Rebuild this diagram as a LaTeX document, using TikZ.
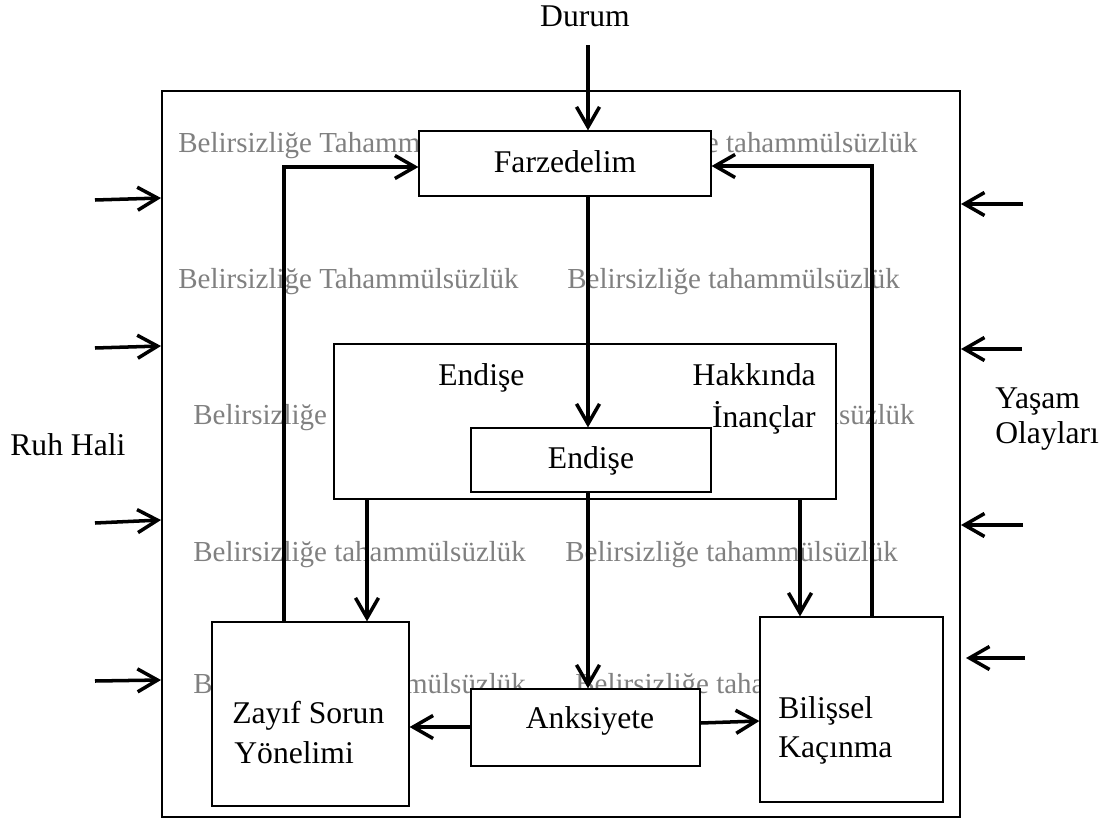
\documentclass[tikz,border=0pt]{standalone}
\usepackage{fontspec}
\setmainfont{Liberation Serif}
\usetikzlibrary{arrows.meta}
\begin{document}
\begin{tikzpicture}[x=0.02cm,y=-0.02cm,
  box/.style={draw,fill=white,line width=0.7pt,inner sep=0pt},
  lbl/.style={inner sep=0pt,font=\fontsize{18}{21}\selectfont},
  wm/.style={inner sep=0pt,text=black!50,font=\fontsize{16.5}{20}\selectfont,anchor=base west},
  wme/.style={wm,anchor=base east},
  arr/.style={line width=2pt,-{Straight Barb[length=4mm,width=4.6mm]}}]
\useasboundingbox (0,0) rectangle (1109,818);
% outer frame
\node[draw,line width=1.2pt,minimum width=15.96cm,minimum height=14.52cm,inner sep=0pt] (frame) at (561,454) {};
% watermark texts
\node[wm]  (w1a) at (178,152) {Belirsizliğe Tahammülsüzlük};
\node[wme] (w1b) at (918,152) {Belirsizliğe tahammülsüzlük};
\node[wm]  (w2a) at (178,288) {Belirsizliğe Tahammülsüzlük};
\node[wm]  (w2b) at (567,288) {Belirsizliğe tahammülsüzlük};
\node[wm]  (w3a) at (193,424) {Belirsizliğe tahammülsüzlük};
\node[wme] (w3b) at (915,424) {Belirsizliğe tahammülsüzlük};
\node[wm]  (w4a) at (193,561) {Belirsizliğe tahammülsüzlük};
\node[wm]  (w4b) at (565,561) {Belirsizliğe tahammülsüzlük};
\node[wm]  (w5a) at (193,693) {Belirsizliğe tahammülsüzlük};
\node[wm]  (w5b) at (575,693) {Belirsizliğe tahammülsüzlük};
% boxes
\node[box,minimum width=5.84cm,minimum height=1.3cm] (farz) at (565,163.5) {};
\node[box,minimum width=10.04cm,minimum height=3.1cm] (big) at (585,421.5) {};
\node[box,minimum width=4.8cm,minimum height=1.28cm] (small) at (591,460) {};
\node[box,minimum width=3.94cm,minimum height=3.68cm] (zayif) at (310.5,714) {};
\node[box,minimum width=4.58cm,minimum height=1.54cm] (anks) at (585.5,727.5) {};
\node[box,minimum width=3.66cm,minimum height=3.7cm] (bil) at (851.5,709.5) {};
% texts
\node[lbl,anchor=base] (durum) at (585,27) {Durum};
\node[lbl,anchor=base] (tfarz) at (565,172) {Farzedelim};
\node[lbl,anchor=base west] (tend1) at (438,385) {Endişe};
\node[lbl,anchor=base east] (thak) at (816,385) {Hakkında};
\node[lbl,anchor=base east] (tinan) at (816,427) {İnançlar};
\node[lbl,anchor=base] (tend2) at (591,468) {Endişe};
\node[lbl,anchor=base west] (tzay1) at (232,723) {Zayıf Sorun};
\node[lbl,anchor=base west] (tzay2) at (234,763) {Yönelimi};
\node[lbl,anchor=base] (tanks) at (590,728) {Anksiyete};
\node[lbl,anchor=base west] (tbil1) at (778,718) {Bilişsel};
\node[lbl,anchor=base west] (tbil2) at (778,757) {Kaçınma};
\node[lbl,anchor=base west] (ruh) at (10,455) {Ruh Hali};
\node[lbl,anchor=base west] (yas1) at (995,408) {Yaşam};
\node[lbl,anchor=base west] (yas2) at (995,443) {Olayları};
% connectors
\draw[arr,shorten <=10pt] (durum.south -| 588,0) -- (farz.north -| 588,0);
\draw[arr] (farz.south -| 588,0) -- (small.north -| 588,0);
\draw[arr] (big.south -| 367,0) -- (zayif.north -| 367,0);
\draw[arr] (small.south -| 588,0) -- (anks.north -| 588,0);
\draw[arr] (big.south -| 800,0) -- (bil.north -| 800,0);
\draw[arr] (zayif.north -| 284,0) |- (farz.west |- 0,167);
\draw[arr] (bil.north -| 872,0) |- (farz.east |- 0,166);
\draw[arr] (anks.west |- 0,727) -- (zayif.east |- 0,727);
\draw[arr] (anks.east |- 0,723) -- (bil.west |- 0,721);
% side arrows
\coordinate (l1) at (95,200); \coordinate (l2) at (95,348);
\coordinate (l3) at (95,523); \coordinate (l4) at (95,681);
\draw[arr] (l1) -- (frame.west |- 0,198);
\draw[arr] (l2) -- (frame.west |- 0,346);
\draw[arr] (l3) -- (frame.west |- 0,520);
\draw[arr] (l4) -- (frame.west |- 0,680);
\coordinate (r1) at (1023,204); \coordinate (r2) at (1022,349);
\coordinate (r3) at (1023,525); \coordinate (r4) at (1025,658);
\draw[arr] (r1) -- (frame.east |- 0,204);
\draw[arr] (r2) -- (frame.east |- 0,349);
\draw[arr] (r3) -- (frame.east |- 0,525);
\draw[arr] (r4) -- (966,658);
\end{tikzpicture}
\end{document}
